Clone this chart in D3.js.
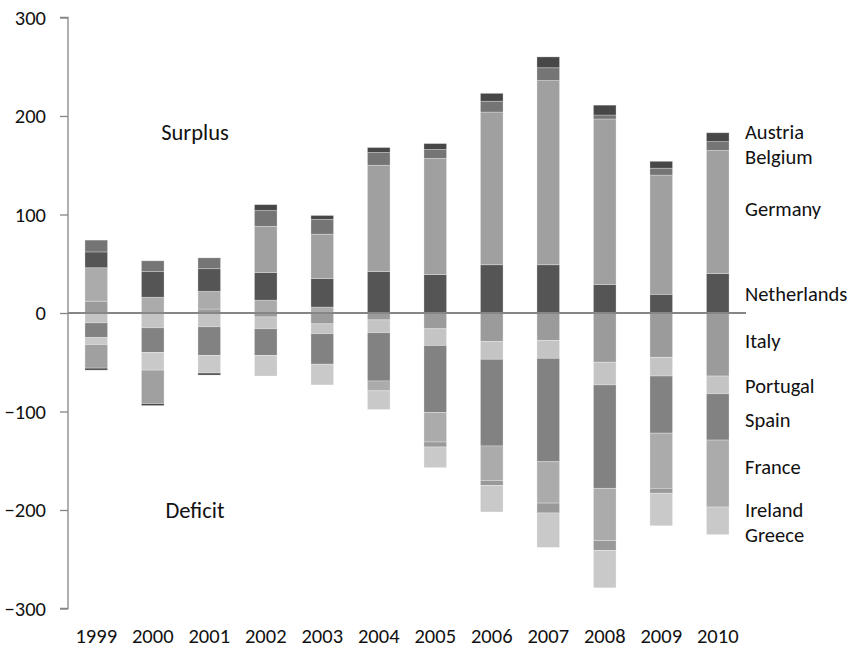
<!DOCTYPE html>
<html><head><meta charset="utf-8">
<script src="https://cdn.jsdelivr.net/npm/d3@7"></script>
<style>
body{margin:0;background:#fff;}
svg text{font-family:Carlito,Calibri,Lato,"Open Sans",sans-serif;fill:#111;}
</style></head>
<body><svg id="c" width="850" height="652"></svg>
<script>
const years = ["1999","2000","2001","2002","2003","2004","2005","2006","2007","2008","2009","2010"];
// series in stacking order (Excel series order)
const countries = ["Italy","Portugal","Spain","France","Ireland","Greece","Netherlands","Germany","Belgium","Austria"];
const italy       = [12, 0, 4, -4, -11, -7, -16, -29, -28, -50, -45, -64];
const portugal    = [-10, -15, -14, -12, -10, -13, -17, -18, -18, -23, -19, -18];
const spain       = [-15, -25, -29, -27, -31, -49, -68, -88, -105, -105, -58, -47];
const france      = [34, 16, 18, 13, 6, -10, -30, -35, -42, -53, -56, -68];
const ireland     = [0, 0, 0, 0, 0, 0, -5, -5, -10, -10, -5, 0];
const greece      = [-7, -18, -18, -21, -21, -19, -21, -27, -35, -38, -33, -28];
const netherlands = [16, 26, 23, 28, 29, 42, 39, 49, 49, 29, 19, 40];
const germany     = [-24, -34, 0, 47, 45, 108, 118, 155, 187, 168, 121, 125];
const belgium     = [12, 11, 11, 16, 15, 13, 9, 11, 13, 4, 7, 9];
const austria     = [-2, -2, -2, 6, 4, 5, 6, 8, 11, 10, 7, 9];
const seriesValues = [italy, portugal, spain, france, ireland, greece, netherlands, germany, belgium, austria];
const colors = ["#9b9b9b","#c4c4c4","#828282","#ababab","#999999","#c9c9c9","#555555","#a0a0a0","#757575","#474747"];
const yTicks = [-300,-200,-100,0,100,200,300];
// right-side labels and the 2010 value they sit beside
const sideLabels = ["Austria","Belgium","Germany","Netherlands","Italy","Portugal","Spain","France","Ireland","Greece"];
const sideLabelValues = [184, 159, 106, 19, -28, -74, -108, -156, -200, -225];
const regionLabels = ["Surplus","Deficit"];
const regionValues = [184, -200];

const rows = years.map((yr,i)=>{const r={year:yr};countries.forEach((c,k)=>r[c]=seriesValues[k][i]);return r;});
const stack = d3.stack().keys(countries).order(d3.stackOrderNone).offset(d3.stackOffsetDiverging);
const layers = stack(rows);

const svg = d3.select("#c");
const L=68, R=746, T=17.5, B=608.5;
const FS = 20.5;
const x = d3.scaleBand().domain(years).range([L,R]).paddingInner(0.6).paddingOuter(0.3);
const y = d3.scaleLinear().domain([-300,300]).range([B,T]);

svg.append("g").selectAll("g").data(layers).join("g")
  .attr("fill",(d,i)=>colors[i])
  .selectAll("rect").data(d=>d).join("rect")
  .attr("x",d=>x(d.data.year))
  .attr("width",x.bandwidth())
  .attr("y",d=>y(Math.max(d[0],d[1])))
  .attr("height",d=>Math.abs(y(d[0])-y(d[1])))
  .attr("stroke","#ffffff").attr("stroke-opacity",0.35).attr("stroke-width",0.8);

// y axis
const yAxis = d3.axisLeft(y).tickValues(yTicks).tickSize(8).tickPadding(14).tickFormat(d3.format("d"));
const ga = svg.append("g").attr("transform",`translate(${L},0)`).call(yAxis);
ga.select(".domain").attr("stroke","#868686").attr("stroke-width",1.3).attr("d",`M-8,${T}H0V${B}H-8`);
ga.selectAll(".tick line").attr("stroke","#868686").attr("stroke-width",1.3);
ga.selectAll(".tick text").attr("font-size",FS).attr("fill","#111").style("font-family","Carlito,Calibri,Lato,sans-serif");

// zero line
svg.append("line").attr("x1",L).attr("x2",R).attr("y1",y(0)).attr("y2",y(0))
  .attr("stroke","#868686").attr("stroke-width",2);

// x labels
const gx = svg.append("g").attr("transform",`translate(0,${B})`)
  .call(d3.axisBottom(x).tickSize(0).tickPadding(20));
gx.select(".domain").remove();
gx.selectAll(".tick text").attr("font-size",FS).attr("fill","#111").style("font-family","Carlito,Calibri,Lato,sans-serif");

// side labels
svg.append("g").selectAll("text").data(sideLabels).join("text")
  .attr("x",745).attr("y",(d,i)=>y(sideLabelValues[i])).attr("dy","0.35em")
  .attr("font-size",FS).text(d=>d);

svg.append("g").selectAll("text").data(regionLabels).join("text")
  .attr("x",195).attr("y",(d,i)=>y(regionValues[i])).attr("dy","0.35em")
  .attr("text-anchor","middle").attr("font-size",22.5).text(d=>d);
</script></body></html>
